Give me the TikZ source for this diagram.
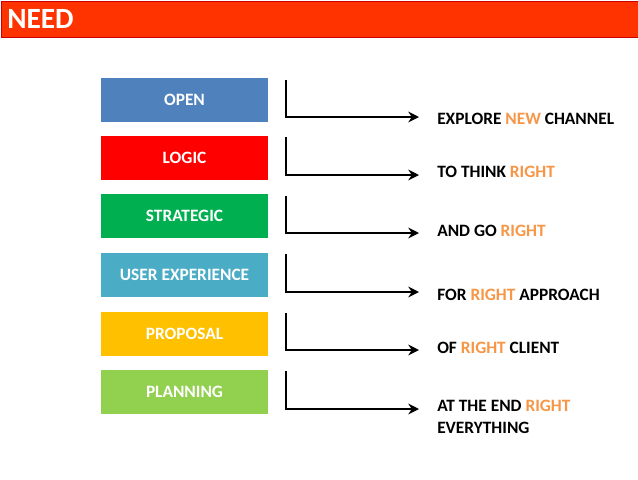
\documentclass[tikz,border=0pt]{standalone}
\usepackage{fontspec}
\setmainfont{Carlito}
\definecolor{hdr}{HTML}{FF3300}
\definecolor{cA}{HTML}{4F81BD}
\definecolor{cB}{HTML}{FF0000}
\definecolor{cC}{HTML}{00B050}
\definecolor{cD}{HTML}{4BACC6}
\definecolor{cE}{HTML}{FFC000}
\definecolor{cF}{HTML}{92D050}
\definecolor{org}{HTML}{F79646}
\tikzset{
 box/.style={minimum width=125.25pt, minimum height=33pt, inner sep=0pt, text=white, font=\bfseries\fontsize{13}{15}\selectfont},
 lab/.style={anchor=west, align=left, inner sep=0pt, font=\bfseries\fontsize{13}{16}\selectfont},
 conn/.style={line width=1.8pt, -{Stealth[length=8pt,width=8pt]}}
}
\usetikzlibrary{arrows.meta}
\newcommand{\hi}[1]{\textcolor{org}{#1}}
\begin{document}
\begin{tikzpicture}[x=0.75pt,y=-0.75pt]
\useasboundingbox (0,0) rectangle (638,479);
\fill[white] (0,0) rectangle (638,479);
\node[draw=red!80!black, fill=hdr, line width=0.6pt, minimum width=636.5pt*0.75, minimum height=27pt, inner sep=0pt, anchor=north west] (hd) at (1,1) {};
\node[anchor=west, text=white, font=\bfseries\fontsize{22}{24}\selectfont, inner sep=0pt] (ht) at (7,19) {NEED};
\foreach \n/\t/\c/\y/\ya/\yb/\ly/\l in {
 a/OPEN/cA/100/80/117/119/{EXPLORE \hi{NEW} CHANNEL},
 b/LOGIC/cB/158/137/175/172/{TO THINK \hi{RIGHT}},
 c/STRATEGIC/cC/216/196/233/231/{AND GO \hi{RIGHT}},
 d/USER EXPERIENCE/cD/275/254/292/295/{FOR \hi{RIGHT} APPROACH},
 e/PROPOSAL/cE/334/313/350/348/{OF \hi{RIGHT} CLIENT},
 f/PLANNING/cF/392/371/409/417/{AT THE END \hi{RIGHT}\\EVERYTHING}}{
 \node[box, fill=\c] (\n) at (184.5,\y) {\t};
 \coordinate (s\n) at (286,\ya);
 \coordinate (k\n) at (286,\yb);
 \coordinate (e\n) at (419,\yb);
 \draw[conn] (s\n) -- (k\n) -- (e\n);
 \node[lab] (l\n) at (437,\ly) {\l};
}
\end{tikzpicture}
\end{document}
